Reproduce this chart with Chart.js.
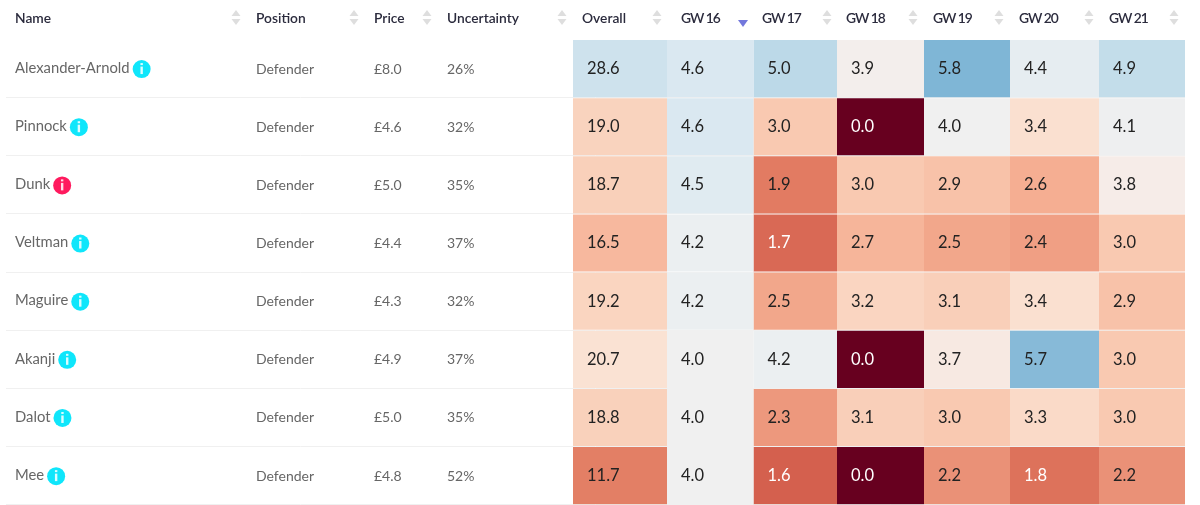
<!DOCTYPE html>
<html>
<head>
<meta charset="utf-8">
<style>
  html, body { margin: 0; padding: 0; background: #fff; }
  canvas { display: block; }
</style>
<script src="https://cdn.jsdelivr.net/npm/chart.js@4/dist/chart.umd.min.js"></script>
</head>
<body>
<canvas id="table" width="1200" height="505"></canvas>
<script>
const names = ["Alexander-Arnold", "Pinnock", "Dunk", "Veltman", "Maguire", "Akanji", "Dalot", "Mee"];
const positions = ["Defender", "Defender", "Defender", "Defender", "Defender", "Defender", "Defender", "Defender"];
const prices = ["£8.0", "£4.6", "£5.0", "£4.4", "£4.3", "£4.9", "£5.0", "£4.8"];
const uncertainty = ["26%", "32%", "35%", "37%", "32%", "37%", "35%", "52%"];
const alerts = ["Dunk"];

const overall = [28.6, 19.0, 18.7, 16.5, 19.2, 20.7, 18.8, 11.7];
const gw16 = [4.6, 4.6, 4.5, 4.2, 4.2, 4.0, 4.0, 4.0];
const gw17 = [5.0, 3.0, 1.9, 1.7, 2.5, 4.2, 2.3, 1.6];
const gw18 = [3.9, 0.0, 3.0, 2.7, 3.2, 0.0, 3.1, 0.0];
const gw19 = [5.8, 4.0, 2.9, 2.5, 3.1, 3.7, 3.0, 2.2];
const gw20 = [4.4, 3.4, 2.6, 2.4, 3.4, 5.7, 3.3, 1.8];
const gw21 = [4.9, 4.1, 3.8, 3.0, 2.9, 3.0, 3.0, 2.2];

const textHeaders = ["Name", "Position", "Price", "Uncertainty"];
const heatHeaders = ["Overall", "GW 16", "GW 17", "GW 18", "GW 19", "GW 20", "GW 21"];
const heatSeries = [overall, gw16, gw17, gw18, gw19, gw20, gw21];

// layout, on the x scale
const textColumnX = [15, 256, 374, 447];
const heatEdges = [573, 667, 753.5, 837, 924, 1010, 1099, 1185];
const headerX = [582, 681, 762, 846, 933, 1019, 1109];
const sortIconX = [236, 354, 427, 562, 657, 743, 827, 913, 999, 1089, 1174];
const activeSort = 743;

const FONT = "Lato, 'Noto Sans', sans-serif";

// RdBu-like ramp
const colorStops = [
  [0, [103, 0, 31]], [1.6, [212, 96, 78]], [1.9, [226, 123, 98]], [2.6, [245, 174, 146]],
  [3.0, [249, 201, 177]], [3.4, [250, 224, 208]], [3.8, [246, 236, 232]], [4.0, [240, 240, 240]],
  [4.4, [230, 237, 241]], [4.6, [218, 232, 241]], [5.0, [188, 217, 232]], [5.8, [127, 182, 214]]
];

const cellColor = (v) => {
  for (let i = 1; i < colorStops.length; i++) {
    const [a, ca] = colorStops[i - 1];
    const [b, cb] = colorStops[i];
    if (v <= b) {
      const t = (v - a) / (b - a);
      const c = ca.map((x, k) => Math.round(x + (cb[k] - x) * t));
      return `rgb(${c.join(",")})`;
    }
  }
  return `rgb(${colorStops[colorStops.length - 1][1].join(",")})`;
};

const datasets = heatSeries.map((series, c) => ({
  label: heatHeaders[c],
  data: series.map(() => [heatEdges[c], heatEdges[c + 1]]),
  // Overall is a six gameweek sum, so it sits on the same ramp divided by 6
  backgroundColor: series.map((v) => cellColor(c === 0 ? v / 6 : v)),
  borderWidth: 0,
  grouped: false,
  barPercentage: 1,
  categoryPercentage: 57 / 58
}));

const triangle = (ctx, x, y, dir, color, half = 4.5, tall = 6) => {
  ctx.fillStyle = color;
  ctx.beginPath();
  ctx.moveTo(x - half, y);
  ctx.lineTo(x + half, y);
  ctx.lineTo(x, y + dir * tall);
  ctx.closePath();
  ctx.fill();
};

const tableText = {
  id: "tableText",
  afterDraw(chart) {
    const {ctx, scales: {x, y}} = chart;
    ctx.save();
    ctx.textBaseline = "middle";
    ctx.textAlign = "left";

    // header row
    ctx.font = `600 13.8px ${FONT}`;
    ctx.fillStyle = "#2b2b3d";
    textHeaders.forEach((h, i) => ctx.fillText(h, x.getPixelForValue(textColumnX[i]), 19));
    heatHeaders.forEach((h, i) => {
      ctx.letterSpacing = i === 0 ? "0px" : "-1px";
      ctx.fillText(h, x.getPixelForValue(headerX[i]), 19);
    });
    ctx.letterSpacing = "0px";

    sortIconX.forEach((sx) => {
      const px = x.getPixelForValue(sx);
      if (sx === activeSort) {
        triangle(ctx, px, 20, 1, "#7378dc", 5, 7);
      } else {
        triangle(ctx, px, 16, -1, "#dedede");
        triangle(ctx, px, 19, 1, "#dedede");
      }
    });

    // player columns
    names.forEach((name, r) => {
      const py = y.getPixelForValue(r);
      ctx.font = `400 14.8px ${FONT}`;
      ctx.fillStyle = "#666";
      ctx.fillText(name, x.getPixelForValue(textColumnX[0]), py - 0.5);
      const nameEnd = x.getPixelForValue(textColumnX[0]) + ctx.measureText(name).width;
      ctx.font = `400 14px ${FONT}`;
      ctx.fillText(positions[r], x.getPixelForValue(textColumnX[1]), py + 0.5);
      ctx.fillText(prices[r], x.getPixelForValue(textColumnX[2]), py + 0.5);
      ctx.fillText(uncertainty[r], x.getPixelForValue(textColumnX[3]), py + 0.5);

      const cx = nameEnd + 12;
      ctx.fillStyle = alerts.includes(name) ? "#ff1a5e" : "#0fe6fb";
      ctx.beginPath();
      ctx.arc(cx, py + 0.5, 9, 0, Math.PI * 2);
      ctx.fill();
      ctx.fillStyle = "rgba(255,255,255,0.85)";
      ctx.fillRect(cx - 1.2, py - 2, 2.4, 7.5);
      ctx.fillRect(cx - 1.2, py - 5.5, 2.4, 2);
    });

    // heat cell values
    ctx.font = `400 16.5px ${FONT}`;
    heatSeries.forEach((series, c) => {
      series.forEach((v, r) => {
        ctx.fillStyle = c > 0 && v <= 1.8 ? "#fff" : "#222";
        ctx.fillText(v.toFixed(1), x.getPixelForValue(heatEdges[c]) + 14, y.getPixelForValue(r));
      });
    });
    ctx.restore();
  }
};

new Chart(document.getElementById("table"), {
  type: "bar",
  data: {labels: names, datasets},
  plugins: [tableText],
  options: {
    indexAxis: "y",
    responsive: false,
    animation: false,
    layout: {padding: {left: 6, right: 15, top: 39.5, bottom: 0.3}},
    scales: {
      x: {type: "linear", min: 6, max: 1185, display: false},
      y: {
        type: "category",
        ticks: {display: false},
        border: {display: false},
        grid: {
          // no rule above the first row
          color: (c) => (c.index === 0 ? "rgba(0,0,0,0)" : "#f0f0f0"),
          lineWidth: 1,
          drawTicks: false,
          offset: true
        }
      }
    },
    plugins: {legend: {display: false}, tooltip: {enabled: false}}
  }
});
</script>
</body>
</html>
